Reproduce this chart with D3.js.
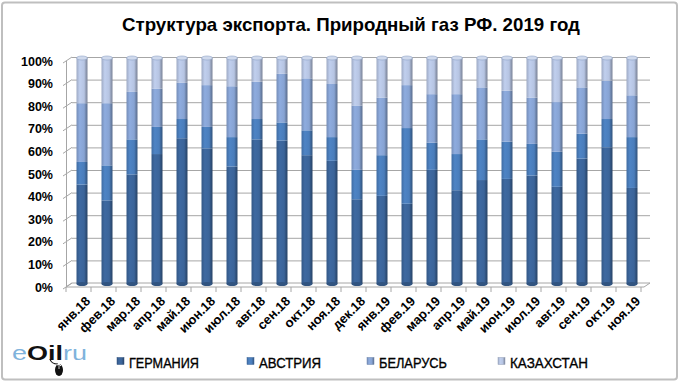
<!DOCTYPE html>
<html lang="ru">
<head>
<meta charset="utf-8"/>
<title>Структура экспорта</title>
<script src="https://cdn.jsdelivr.net/npm/d3@7"></script>
<style>
  body { margin: 0; background: #fff; }
  svg { display: block; }
  .narrow { font-family: "Liberation Sans Narrow", "Arial Narrow", "Liberation Sans", sans-serif; }
</style>
</head>
<body>
<svg id="chart" width="681" height="384"></svg>
<script>
// months, янв.18 .. ноя.19
const months = ['янв.18','фев.18','мар.18','апр.18','май.18','июн.18','июл.18','авг.18','сен.18','окт.18','ноя.18','дек.18',
                'янв.19','фев.19','мар.19','апр.19','май.19','июн.19','июл.19','авг.19','сен.19','окт.19','ноя.19'];
const seriesNames = ['ГЕРМАНИЯ','АВСТРИЯ','БЕЛАРУСЬ','КАЗАХСТАН'];
// shares, %
const germany    = [44,37,48.5,57.5,64.5,60,52,64,63.5,57,54.5,37.5,39,35.5,50.5,41.5,46,46.5,48,43,55.5,60.5,42.5];
const austria    = [10,15.5,15.5,12,8.5,9.5,13,9,8,11,10.5,13,18,33.5,12,16,18,16.5,14,15.5,11,12.5,22.5];
const belarus    = [26,27.5,21,17,16,18.5,22.5,16.5,21.5,23,23.5,28.5,25.5,19,21.5,26.5,23,22.5,20.5,22,20.5,17,18.5];
const kazakhstan = [20,20,15,13.5,11,12,12.5,10.5,7,9,11.5,21,17.5,12,16,16,13,14.5,17.5,19.5,13,10,16.5];
const yTicks = [0,0.1,0.2,0.3,0.4,0.5,0.6,0.7,0.8,0.9,1];

const colors = ['#3b6499','#4a7dbb','#87a3d3','#b6c4e2'];

const svg = d3.select('#chart');
const W = 681, H = 384;

// outer frame
svg.append('rect').attr('x',2).attr('y',2.5).attr('width',W-6).attr('height',H-7)
  .attr('rx',3).attr('fill','#fff').attr('stroke','#bfbfbf').attr('stroke-width',2);

// title
svg.append('text').attr('class','narrow')
  .attr('x',351).attr('y',31).attr('text-anchor','middle')
  .attr('font-size',19).attr('font-weight','bold').attr('fill','#000')
  .attr('textLength',458).attr('lengthAdjust','spacingAndGlyphs')
  .text('Структура экспорта. Природный газ РФ. 2019 год');

// depth offset of the 3d back wall
const dx = 6, dy = -4;
const x = d3.scaleBand().domain(months).range([69.5, 644.5]);
const y = d3.scaleLinear().domain([0,1]).range([283, 57]);   // back wall
const x0 = 66, x1 = 644;                                     // front floor

// gradients per series (cylinder-like shading)
const defs = svg.append('defs');
colors.forEach((c,i) => {
  const g = defs.append('linearGradient').attr('id','g'+i).attr('x1',0).attr('x2',1).attr('y1',0).attr('y2',0);
  const base = d3.color(c);
  g.append('stop').attr('offset','0%').attr('stop-color', base.darker(0.4));
  g.append('stop').attr('offset','30%').attr('stop-color', base.brighter(0.15));
  g.append('stop').attr('offset','70%').attr('stop-color', base);
  g.append('stop').attr('offset','85%').attr('stop-color', base.darker(0.6));
  g.append('stop').attr('offset','100%').attr('stop-color', base.darker(1.1));
});

// floor
svg.append('path')
  .attr('d', `M${x0},${y(0)+4} L${x1},${y(0)+4} L${x1+dx},${y(0)+4+dy} L${x0+dx},${y(0)+4+dy} Z`)
  .attr('fill','#fff').attr('stroke','#a6a6a6').attr('stroke-width',1);

// gridlines on back wall
svg.append('g').selectAll('line').data(yTicks.slice(1)).join('line')
  .attr('x1', x0+dx).attr('x2', x1+dx)
  .attr('y1', d => y(d)+0.5).attr('y2', d => y(d)+0.5)
  .attr('stroke','#a6a6a6').attr('stroke-width',1);

// left axis: vertical line + diagonal ticks
svg.append('line').attr('x1',x0+0.5).attr('x2',x0+0.5).attr('y1',y(1)+4).attr('y2',y(0)+4)
  .attr('stroke','#a6a6a6');
svg.append('g').selectAll('line').data(yTicks).join('line')
  .attr('x1', x0-3).attr('y1', d => y(d)+6)
  .attr('x2', x0+dx).attr('y2', d => y(d))
  .attr('stroke','#a6a6a6');

// y labels
svg.append('g').selectAll('text').data(yTicks).join('text')
  .attr('x', 53).attr('y', d => y(d)+4+4.5)
  .attr('text-anchor','end')
  .attr('font-family','"Liberation Sans", Arial, sans-serif')
  .attr('font-size',12.5).attr('font-weight','bold').attr('fill','#000')
  .text(d3.format('.0%'));

// x ticks on front floor edge
svg.append('g').selectAll('line').data(d3.range(months.length+1)).join('line')
  .attr('x1', i => x0 + i*x.step()).attr('x2', i => x0 + i*x.step())
  .attr('y1', y(0)+4).attr('y2', y(0)+9)
  .attr('stroke','#a6a6a6');

// x labels rotated
svg.append('g').selectAll('text').data(months).join('text')
  .attr('transform', d => `translate(${x(d)+x.bandwidth()/2+9},${y(0)+19}) rotate(-45)`)
  .attr('text-anchor','end')
  .attr('font-family','"Liberation Sans", Arial, sans-serif')
  .attr('font-size',13).attr('font-weight','bold').attr('fill','#000')
  .text(d => d);

// stacked 100% bars
const rows = months.map((m,i) => ({m, g: germany[i], a: austria[i], b: belarus[i], k: kazakhstan[i]}));
const stack = d3.stack().keys(['g','a','b','k']).offset(d3.stackOffsetExpand);
const layers = stack(rows);
const bw = 11;

const bars = svg.append('g');
layers.forEach((layer, li) => {
  bars.append('g').selectAll('rect').data(layer).join('rect')
    .attr('x', d => x(d.data.m) + x.bandwidth()/2 - bw/2)
    .attr('width', bw)
    .attr('y', d => y(d[1]) + 1)
    .attr('height', d => y(d[0]) - y(d[1]))
    .attr('fill', `url(#g${li})`);
});
// bottom and top caps
bars.append('g').selectAll('ellipse').data(months).join('ellipse')
  .attr('cx', d => x(d) + x.bandwidth()/2).attr('cy', y(0)+1)
  .attr('rx', bw/2).attr('ry', 2).attr('fill', d3.color(colors[0]).darker(0.5));
bars.append('g').selectAll('ellipse').data(months).join('ellipse')
  .attr('cx', d => x(d) + x.bandwidth()/2).attr('cy', y(1)+1)
  .attr('rx', bw/2).attr('ry', 2).attr('fill', '#cfd9ec').attr('stroke','#8ea2c6').attr('stroke-width',0.6);

// legend
const legX = [117, 247, 367, 498];
const legLen = [70, 62, 68, 78];
const leg = svg.append('g');
seriesNames.forEach((n,i) => {
  leg.append('rect').attr('x', legX[i]).attr('y', 357.5).attr('width',7).attr('height',7)
    .attr('fill', `url(#g${i})`).attr('stroke', d3.color(colors[i]).darker(0.6)).attr('stroke-width',0.5);
  leg.append('text').attr('class','narrow').attr('x', legX[i]+12).attr('y', 367.5)
    .attr('font-size',15).attr('fill','#000').attr('stroke','#000').attr('stroke-width',0.35)
    .attr('textLength', legLen[i]).attr('lengthAdjust','spacingAndGlyphs')
    .text(n);
});

// logo
const logo = svg.append('text').attr('x',12).attr('y',360)
  .attr('font-family','"Liberation Sans", Arial, sans-serif').attr('font-size',20)
  .attr('textLength',75).attr('lengthAdjust','spacingAndGlyphs');
logo.append('tspan').attr('fill','#7fb3dc').text('e');
logo.append('tspan').attr('fill','#111').attr('font-weight','bold').text('Oil');
logo.append('tspan').attr('fill','#7fb3dc').text('ru');
svg.append('path').attr('d','M50,359 Q51,364 58,364')
  .attr('fill','none').attr('stroke','#111').attr('stroke-width',1.2);
svg.append('ellipse').attr('cx',59).attr('cy',370).attr('rx',4).attr('ry',6)
  .attr('fill','#111');
svg.append('path').attr('d','M57,365 Q59,363 61,366')
  .attr('fill','none').attr('stroke','#fff').attr('stroke-width',1);
svg.append('line').attr('x1',59).attr('x2',59).attr('y1',364).attr('y2',369)
  .attr('stroke','#fff').attr('stroke-width',0.8);
</script>
</body>
</html>
